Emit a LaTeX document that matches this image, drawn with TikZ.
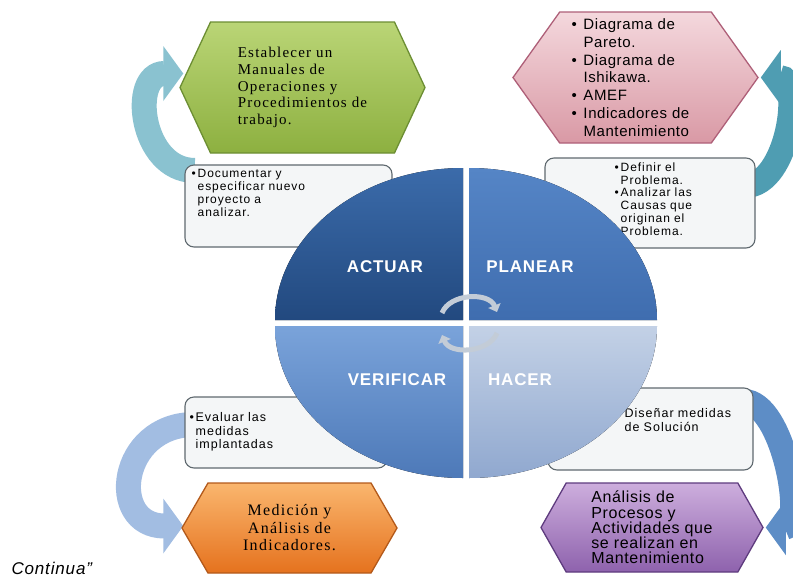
\documentclass[tikz,border=0pt]{standalone}
\usepackage{fontspec}
\setmainfont{Liberation Sans}
\newfontfamily\hexserif{Liberation Serif}[LetterSpace=8]
\newfontfamily\hexsans{Liberation Sans}[LetterSpace=4]
\newfontfamily\notesans{Liberation Sans}[LetterSpace=8]
\newfontfamily\lblsans{Liberation Sans}[LetterSpace=5]
\newfontfamily\contsans{Liberation Sans}[LetterSpace=5]
\usetikzlibrary{positioning,calc,arrows.meta,shapes.symbols,backgrounds}

\definecolor{greentop}{HTML}{BAD576}
\definecolor{greenbot}{HTML}{8DB040}
\definecolor{greenline}{HTML}{6C8E33}
\definecolor{pinktop}{HTML}{F4D8DD}
\definecolor{pinkbot}{HTML}{D999A5}
\definecolor{pinkline}{HTML}{AE5F78}
\definecolor{orangetop}{HTML}{FAB66E}
\definecolor{orangebot}{HTML}{E5721E}
\definecolor{orangeline}{HTML}{B3591A}
\definecolor{purpletop}{HTML}{CDAEDD}
\definecolor{purplebot}{HTML}{8E62AD}
\definecolor{purpleline}{HTML}{5E3B7E}
\definecolor{boxfill}{HTML}{F4F6F7}
\definecolor{boxline}{HTML}{5F696F}
\definecolor{arrowtl}{HTML}{8AC2D0}
\definecolor{arrowtr}{HTML}{4F9DB2}
\definecolor{arrowbr}{HTML}{5D8DC6}
\definecolor{arrowbl}{HTML}{A2BDE2}
\definecolor{cycgray}{HTML}{C3CCD7}
\definecolor{actuartop}{HTML}{3B6BAA}
\definecolor{actuarbot}{HTML}{22497F}
\definecolor{planeartop}{HTML}{5585C6}
\definecolor{planearbot}{HTML}{3F6DAF}
\definecolor{hacertop}{HTML}{C3D1E6}
\definecolor{hacerbot}{HTML}{90A8CF}
\definecolor{verifictop}{HTML}{7AA3DA}
\definecolor{verificbot}{HTML}{4D79B8}

% bullet line, later lines aligned with the text
\newcommand{\pitem}[2][11pt]{{\leftskip=#1\noindent\llap{\makebox[#1][l]{\textbullet}}#2\par}}

\tikzset{
hexnode/.style = {signal, signal to=east and west, line width=1.3pt, inner sep=0pt, minimum height=#1},
hexnode/.default = 90pt,
notebox/.style = {rectangle, rounded corners=9pt, draw=boxline, line width=1.1pt, fill=boxfill},
notetext/.style = {font=\notesans\fontsize{12}{12.8}\selectfont, text width=#1, inner sep=0pt, align=left, anchor=north west},
bignote/.style = {font=\notesans\fontsize{12.5}{13.6}\selectfont},
bigarrow/.style = {draw=#1, line width=25pt, -{Triangle[width=54pt,length=20pt]}},
quadlbl/.style = {text=white, font=\lblsans\bfseries\fontsize{17}{19}\selectfont},
cycarrow/.style = {draw=cycgray, line width=5pt, -{Triangle[width=13pt,length=7pt]}}
}

\begin{document}
\begin{tikzpicture}[x=1pt,y=-1pt]
\useasboundingbox (0,0) rectangle (793,584);

% hexagons
\node[hexnode=131pt, minimum width=245pt, signal pointer angle=130, draw=greenline,
      top color=greentop, bottom color=greenbot,
      font=\hexserif\fontsize{15}{16.8}\selectfont, align=left] (manual) at (302.5,87.5)
      {Establecer un\\Manuales de\\Operaciones y\\Procedimientos de\\trabajo.};
\node[hexnode=131pt, minimum width=245pt, signal pointer angle=109, draw=pinkline,
      top color=pinktop, bottom color=pinkbot,
      font=\hexsans\fontsize{15}{17.8}\selectfont, text width=128pt, align=left] (tools) at (635.5,77.5)
      {\pitem[12pt]{Diagrama de\\Pareto.}\pitem[12pt]{Diagrama de\\Ishikawa.}\pitem[12pt]{AMEF}\pitem[12pt]{Indicadores de\\Mantenimiento}};
\node[hexnode=90pt, minimum width=215pt, signal pointer angle=120, draw=orangeline,
      top color=orangetop, bottom color=orangebot,
      font=\hexserif\fontsize{16}{17.5}\selectfont, align=center] (medicion) at (289.5,528)
      {Medición y\\Análisis de\\Indicadores.};
\node[hexnode=89pt, minimum width=222pt, signal pointer angle=121, draw=purpleline,
      top color=purpletop, bottom color=purplebot,
      font=\hexsans\fontsize{16}{15.2}\selectfont, align=left] (procesos) at (652,527.5)
      {Análisis de\\Procesos y\\Actividades que\\se realizan en\\Mantenimiento};

% note boxes
\node[notebox, minimum width=207pt, minimum height=82pt] (documentar) at (288.5,206) {};
\node[notebox, minimum width=210pt, minimum height=90pt] (definir) at (650,203) {};
\node[notebox, minimum width=202pt, minimum height=71pt] (evaluar) at (286,432.5) {};
\node[notebox, minimum width=205pt, minimum height=82pt] (disenar) at (650.5,429) {};

\node[notetext=195pt] (tdoc) at ($(documentar.north west)+(7,5)$)
      {\pitem[6pt]{Documentar y\\especificar nuevo\\proyecto a\\analizar.}};
\node[notetext=130pt] (tdef) at ($(definir.north west)+(70,5)$)
      {\pitem[6pt]{Definir el\\Problema.}\pitem[6pt]{Analizar las\\Causas que\\originan el\\Problema.}};
\node[notetext=160pt, bignote] (teva) at ($(evaluar.north west)+(5,16)$)
      {\pitem[6pt]{Evaluar las\\medidas\\implantadas}};
\node[notetext=140pt, bignote] (tdis) at ($(disenar.north west)+(70,21)$)
      {\pitem[7pt]{Diseñar medidas\\de Solución}};

% cycle in the middle
\coordinate (ctr) at (466,323);
\fill[top color=actuartop, bottom color=actuarbot] ($(ctr)+(-3,-3)$) -- ++(-188,0)
      arc[start angle=180, end angle=270, x radius=188, y radius=152] -- cycle;
\fill[top color=planeartop, bottom color=planearbot] ($(ctr)+(3,-3)$) -- ++(0,-152)
      arc[start angle=270, end angle=360, x radius=188, y radius=152] -- cycle;
\fill[top color=hacertop, bottom color=hacerbot] ($(ctr)+(3,3)$) -- ++(188,0)
      arc[start angle=0, end angle=90, x radius=188, y radius=152] -- cycle;
\fill[top color=verifictop, bottom color=verificbot] ($(ctr)+(-3,3)$) -- ++(0,152)
      arc[start angle=90, end angle=180, x radius=188, y radius=152] -- cycle;

\node[quadlbl] (actuar) at (385,267) {ACTUAR};
\node[quadlbl] (planear) at (530,267) {PLANEAR};
\node[quadlbl] (verificar) at (397,380) {VERIFICAR};
\node[quadlbl] (hacer) at (520,380) {HACER};

\draw[cycarrow] ($(ctr)+(-24,-10)$) .. controls +(8,-20) and +(-8,-20) .. ($(ctr)+(31,-11)$);
\draw[cycarrow] ($(ctr)+(31,10)$) .. controls +(-8,20) and +(8,20) .. ($(ctr)+(-24,12)$);

\node[anchor=west, font=\contsans\itshape\fontsize{17}{19}\selectfont] (continua) at (8,568) {Continua”};

% curved arrows behind the boxes
\begin{pgfonlayer}{background}
\draw[bigarrow=arrowtl] ($(documentar.north west)+(10,6)$) to[out=180,in=180,looseness=1.42] ($(manual.west)+(4,-14)$);
\draw[bigarrow=arrowtr] ($(definir.north east)+(-10,28)$) to[out=0,in=0,looseness=1] ($(tools.east)+(2,0)$);
\draw[bigarrow=arrowbr] ($(disenar.north east)+(-10,14)$) to[out=0,in=0,looseness=0.8] ($(procesos.east)+(2,0)$);
\draw[bigarrow=arrowbl] ($(evaluar.north west)+(10,28)$) to[out=180,in=180,looseness=1.9] ($(medicion.west)+(2,-2)$);
\end{pgfonlayer}
\end{tikzpicture}
\end{document}
